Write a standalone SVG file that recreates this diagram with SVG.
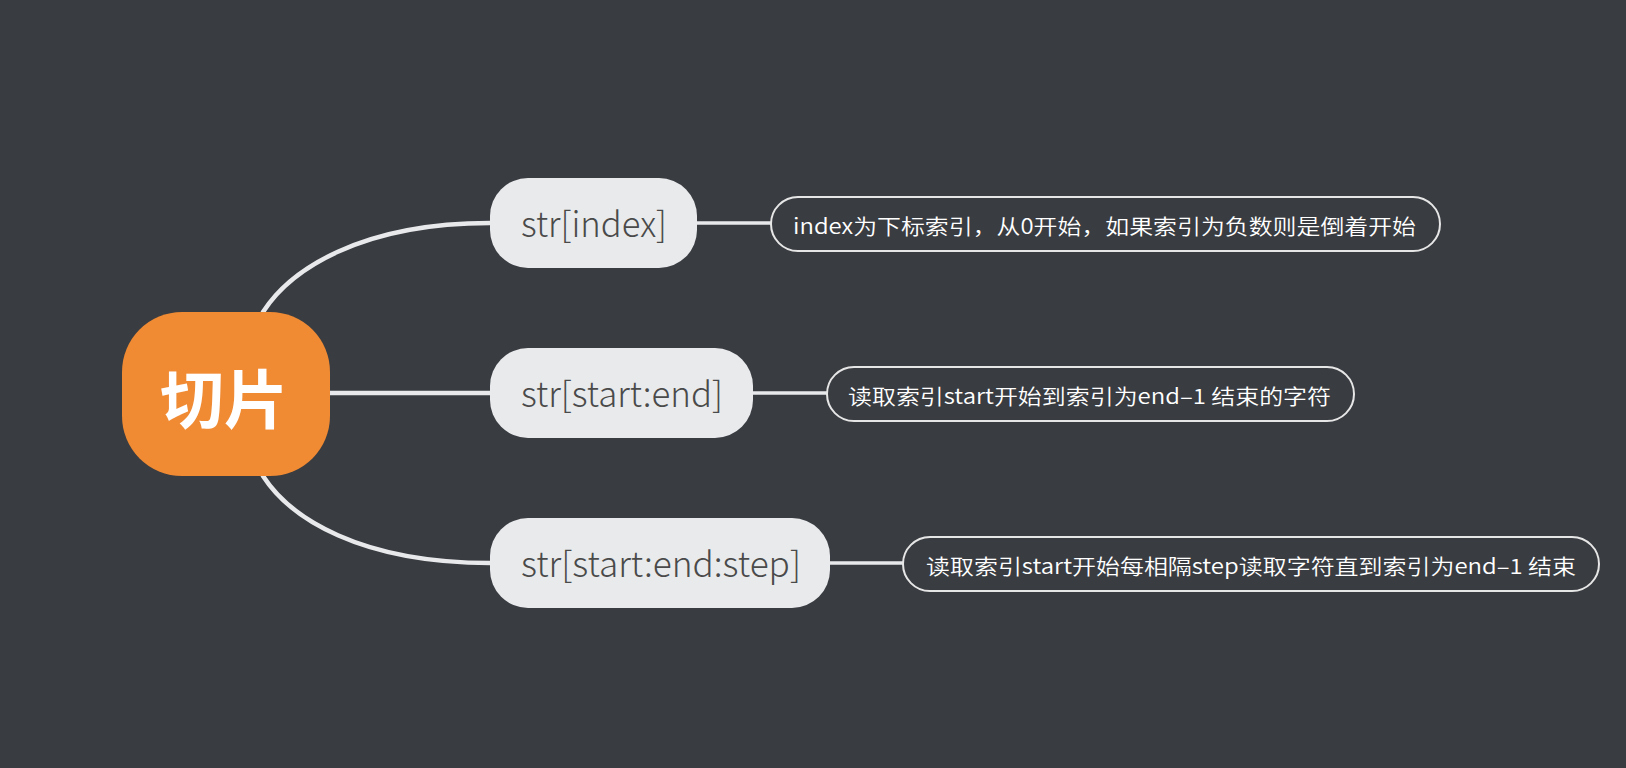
<svg xmlns="http://www.w3.org/2000/svg" width="1626" height="768" viewBox="0 0 1626 768">
<style>
.bg{fill:#393c41}
.conn{fill:none;stroke:#e8e9eb;stroke-width:4.5;stroke-linecap:round}
.sub{fill:none;stroke:#e8e9eb;stroke-width:3.5}
.root{fill:#f08a33}
.roottxt{font-family:"Noto Sans CJK SC","Noto Sans",sans-serif;font-size:64px;font-weight:600;fill:#ffffff}
.branch{fill:#e9eaec}
.btxt{font-family:"Noto Sans CJK SC","Noto Sans",sans-serif;font-size:35px;font-weight:300;fill:#4a4a4a}
.note{fill:#393c41;stroke:#e6e6e6;stroke-width:2}
.ntxt{font-family:"Noto Sans CJK SC","Noto Sans",sans-serif;font-size:21px;font-weight:350;fill:#ffffff}
</style>
<rect class="bg" x="0" y="0" width="1626" height="768"/>
<g id="connectors">
<path class="conn" d="M263 312 C290 270 360 223 490 223"/>
<path class="conn" d="M330 393 L490 393"/>
<path class="conn" d="M263 476 C290 518 360 563 490 563"/>
<path class="sub" d="M697 223 L771 223"/>
<path class="sub" d="M753 393 L827 393"/>
<path class="sub" d="M830 563 L903 563"/>
</g>
<g id="root">
<rect class="root" x="122" y="312" width="208" height="164" rx="60" ry="60"/>
<text class="roottxt" x="224" y="395" text-anchor="middle" dominant-baseline="central">切片</text>
</g>
<g id="branch1">
<rect class="branch" x="490" y="178" width="207" height="90" rx="38"/>
<text class="btxt" x="521" y="237" textLength="146" lengthAdjust="spacingAndGlyphs">str[index]</text>
</g>
<g id="branch2">
<rect class="branch" x="490" y="348" width="263" height="90" rx="38"/>
<text class="btxt" x="521" y="407" textLength="202" lengthAdjust="spacingAndGlyphs">str[start:end]</text>
</g>
<g id="branch3">
<rect class="branch" x="490" y="518" width="340" height="90" rx="38"/>
<text class="btxt" x="521" y="577" textLength="280" lengthAdjust="spacingAndGlyphs">str[start:end:step]</text>
</g>
<g id="note1">
<rect class="note" x="771" y="197" width="669" height="54" rx="27"/>
<text class="ntxt" x="793" y="234" textLength="623" lengthAdjust="spacingAndGlyphs">index为下标索引，从0开始，如果索引为负数则是倒着开始</text>
</g>
<g id="note2">
<rect class="note" x="827" y="367" width="527" height="54" rx="27"/>
<text class="ntxt" x="848" y="404" textLength="483" lengthAdjust="spacingAndGlyphs">读取索引start开始到索引为end–1 结束的字符</text>
</g>
<g id="note3">
<rect class="note" x="903" y="537" width="696" height="54" rx="27"/>
<text class="ntxt" x="926" y="574" textLength="650" lengthAdjust="spacingAndGlyphs">读取索引start开始每相隔step读取字符直到索引为end–1 结束</text>
</g>
</svg>
